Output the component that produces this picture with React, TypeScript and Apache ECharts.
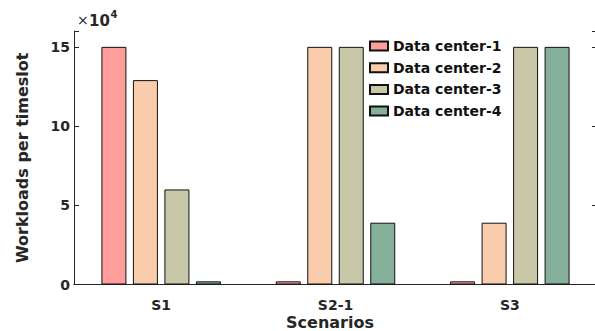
import React, { useEffect, useRef } from "react";
import * as echarts from "echarts";

const categories = ["S1", "S2-1", "S3"];
const seriesNames = ["Data center-1", "Data center-2", "Data center-3", "Data center-4"];
const dc1 = [150000, 2000, 2000];
const dc2 = [129000, 150000, 39000];
const dc3 = [60000, 150000, 150000];
const dc4 = [2000, 39000, 150000];
const seriesValues = [dc1, dc2, dc3, dc4];
const colors = ["#FF9D9A", "#F9CDAC", "#C8C8A8", "#84B09A"];
const yTicks = [0, 50000, 100000, 150000];

const FONT = "DejaVu Sans";
const INK = "#262626";

export default function App() {
  const ref = useRef<HTMLDivElement>(null);
  useEffect(() => {
    document.body.style.margin = "0";
    const chart = echarts.init(ref.current!, null, { renderer: "svg" });
    const option: any = {
      animation: false,
      backgroundColor: "#ffffff",
      textStyle: { fontFamily: FONT, color: INK },
      grid: { left: 74, top: 31, width: 523, height: 253.5, containLabel: false, outerBoundsMode: "none" },
      legend: {
        orient: "vertical",
        left: 369,
        top: 39,
        itemWidth: 18,
        itemHeight: 9,
        itemGap: 7.7,
        icon: "rect",
        backgroundColor: "#ffffff",
        padding: 0,
        textStyle: { fontFamily: FONT, fontSize: 14, fontWeight: "bold", color: "#111" },
        data: seriesNames,
      },
      xAxis: [
        {
          type: "category",
          data: categories,
          position: "bottom",
          axisLine: { lineStyle: { color: INK, width: 1 } },
          axisTick: { inside: true, alignWithLabel: true, length: 5, lineStyle: { color: INK } },
          axisLabel: { fontFamily: FONT, fontSize: 14, fontWeight: "bold", color: INK, margin: 14, lineHeight: 12 },
          splitLine: { show: false },
        },
        {
          type: "category",
          data: categories,
          position: "top",
          axisLine: { lineStyle: { color: INK, width: 1 } },
          axisTick: { inside: true, alignWithLabel: true, length: 5, lineStyle: { color: INK } },
          axisLabel: { show: false },
          splitLine: { show: false },
        },
      ],
      yAxis: [
        {
          type: "value",
          min: 0,
          max: 160000,
          interval: 50000,
          position: "left",
          axisLine: { show: true, lineStyle: { color: INK, width: 1 } },
          axisTick: { show: true, inside: true, length: 5, lineStyle: { color: INK } },
          axisLabel: {
            fontFamily: FONT,
            fontSize: 14,
            fontWeight: "bold",
            color: INK,
            margin: 4,
            formatter: (v: number) => (yTicks.includes(v) ? String(v / 10000) : ""),
          },
          splitLine: { show: false },
          name: "Workloads per timeslot",
          nameLocation: "middle",
          nameRotate: 90,
          nameGap: 44,
          nameTextStyle: { fontFamily: FONT, fontSize: 16, fontWeight: "bold", color: INK },
        },
        {
          type: "value",
          min: 0,
          max: 160000,
          interval: 50000,
          position: "right",
          axisLine: { show: true, lineStyle: { color: INK, width: 1 } },
          axisTick: { show: true, inside: true, length: 5, lineStyle: { color: INK } },
          axisLabel: { show: false },
          splitLine: { show: false },
        },
      ],
      graphic: [
        { type: "text", left: 77, top: 13, style: { text: "×", fontFamily: FONT, fontSize: 14, fill: INK } },
        { type: "text", left: 89, top: 13, style: { text: "10", fontFamily: FONT, fontSize: 15, fontWeight: "bold", fill: INK } },
        { type: "text", left: 110.5, top: 9, style: { text: "4", fontFamily: FONT, fontSize: 10, fontWeight: "bold", fill: INK } },
        {
          type: "text",
          x: 330,
          y: 322,
          style: {
            text: "Scenarios",
            fontFamily: FONT,
            fontSize: 16,
            lineHeight: 14,
            fontWeight: "bold",
            fill: INK,
            align: "center",
            verticalAlign: "middle",
          },
        },
      ],
      series: seriesNames.map((name, i) => ({
        name,
        type: "bar",
        xAxisIndex: 0,
        yAxisIndex: 0,
        data: seriesValues[i],
        barWidth: 25,
        barGap: "26%",
        itemStyle: { color: colors[i], borderColor: "#111", borderWidth: 1 },
      })),
    };
    chart.setOption(option);
    return () => chart.dispose();
  }, []);
  return <div ref={ref} style={{ width: 595, height: 331 }} />;
}
